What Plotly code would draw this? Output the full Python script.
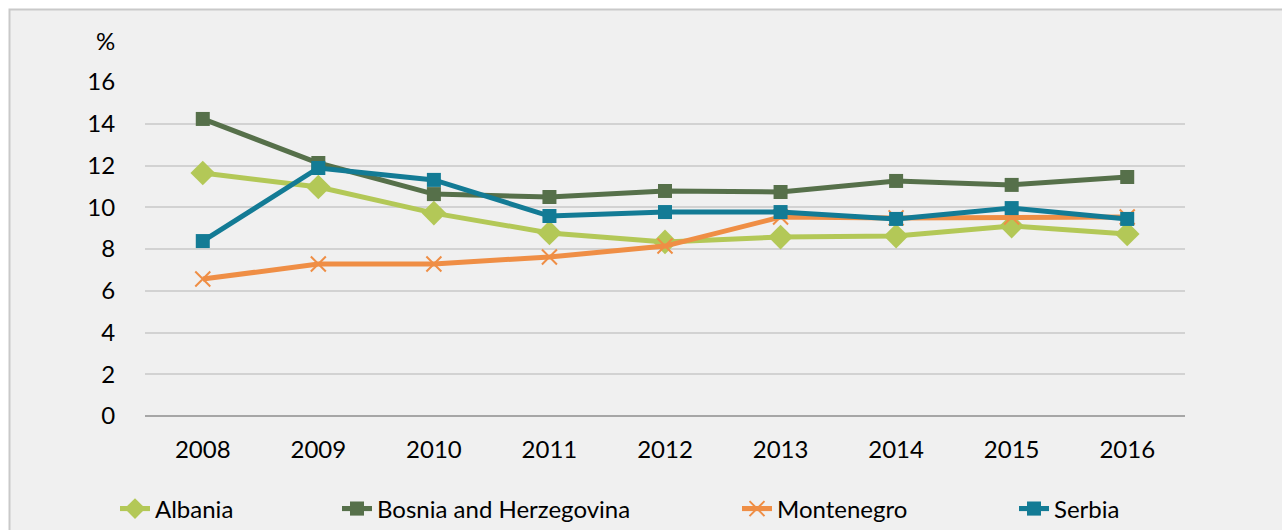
import plotly.graph_objects as go

years = ["2008", "2009", "2010", "2011", "2012", "2013", "2014", "2015", "2016"]
albania = [11.64, 10.97, 9.72, 8.77, 8.34, 8.57, 8.62, 9.10, 8.72]
bosnia = [14.23, 12.12, 10.63, 10.49, 10.78, 10.73, 11.26, 11.07, 11.45]
montenegro = [6.56, 7.28, 7.28, 7.62, 8.14, 9.53, 9.49, 9.53, 9.53]
serbia = [8.38, 11.88, 11.31, 9.58, 9.77, 9.77, 9.44, 9.96, 9.44]
y_ticks = [0, 2, 4, 6, 8, 10, 12, 14, 16]

FONT = "Lato"
FS = 24
W, H = 1282, 530
L, R, T, B = 145, 97, 82, 114
PW, PH = W - L - R, H - T - B

def px_x(px):
    return (px - L) / PW

def px_y(py):
    return (H - B - py) / PH

fig = go.Figure()
series = [
    ("Albania", albania, "#b3c857", dict(symbol="diamond", size=19), "legend"),
    ("Bosnia and Herzegovina", bosnia, "#56704a", dict(symbol="square", size=14), "legend2"),
    ("Montenegro", montenegro, "#ef8e45", dict(symbol="x-thin-open", size=15, line=dict(width=2, color="#ef8e45")), "legend3"),
    ("Serbia", serbia, "#137b95", dict(symbol="square", size=14), "legend4"),
]
for name, vals, color, marker, lg in series:
    m = dict(color=color, **marker)
    fig.add_trace(go.Scatter(x=years, y=vals, name=name, mode="lines+markers",
                             line=dict(color=color, width=5), marker=m, legend=lg))

legend_x = [115, 337, 737, 1014]
common = dict(orientation="h", yanchor="middle", xanchor="left", y=1 - 509 / H,
              xref="container", yref="container",
              bgcolor="rgba(0,0,0,0)", font=dict(family=FONT, size=FS, color="#000"),
              itemwidth=30)
fig.update_layout(
    legend=dict(x=legend_x[0] / W, **common),
    legend2=dict(x=legend_x[1] / W, **common),
    legend3=dict(x=legend_x[2] / W, **common),
    legend4=dict(x=legend_x[3] / W, **common),
)

fig.add_shape(type="rect", xref="paper", yref="paper",
              x0=px_x(9.5), x1=px_x(1300), y0=px_y(545), y1=px_y(9.5),
              line=dict(color="#c9c9c9", width=2), fillcolor="#f0f0f0", layer="below")

fig.add_annotation(text="%", xref="paper", yref="paper", x=px_x(105), y=px_y(41),
                   showarrow=False, font=dict(family=FONT, size=FS, color="#000"),
                   xanchor="center", yanchor="middle")

fig.update_layout(
    width=W, height=H,
    margin=dict(l=L, r=R, t=T, b=B, autoexpand=False),
    paper_bgcolor="white", plot_bgcolor="rgba(0,0,0,0)",
    font=dict(family=FONT, size=FS, color="#000"),
    showlegend=True,
    xaxis=dict(type="category", showgrid=False, zeroline=False, showline=False,
               ticks="outside", ticklen=12, tickcolor="rgba(0,0,0,0)",
               tickfont=dict(family=FONT, size=FS, color="#000"), range=[-0.5, 8.5]),
    yaxis=dict(range=[0, 16], tickvals=y_ticks, showgrid=True, gridcolor="#d2d2d2", gridwidth=1.5,
               zeroline=True, zerolinecolor="#a6a6a6", zerolinewidth=1.5, showline=False,
               ticks="outside", ticklen=24, tickcolor="rgba(0,0,0,0)",
               tickfont=dict(family=FONT, size=FS, color="#000")),
)

fig.write_html("out.html", config={"displayModeBar": False},
               post_script="document.body.style.margin='0';")
